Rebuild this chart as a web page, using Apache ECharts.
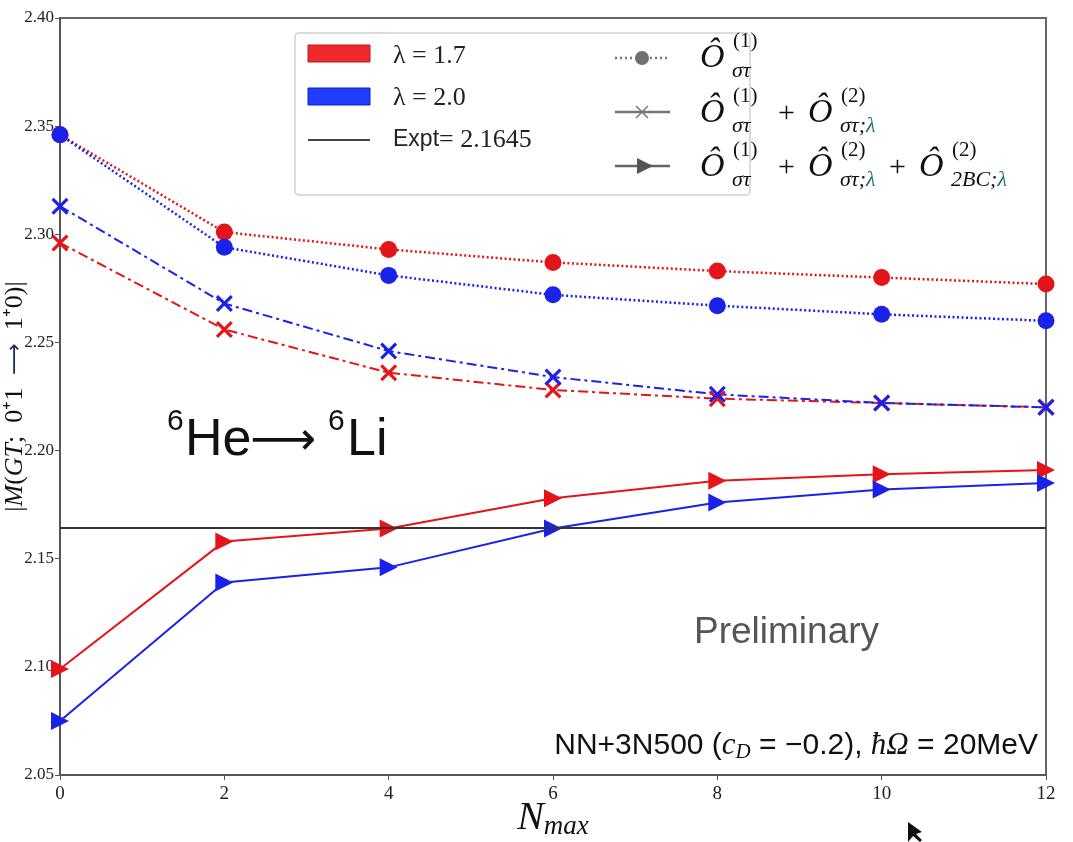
<!DOCTYPE html>
<html>
<head>
<meta charset="utf-8">
<script src="https://cdn.jsdelivr.net/npm/echarts@6/dist/echarts.min.js"></script>
<style>html,body{margin:0;padding:0;background:#fff}#c{width:1073px;height:842px}</style>
</head>
<body>
<div id="c"></div>
<script>
// ---- data ----
const nmax = [0, 2, 4, 6, 8, 10, 12];
const xTicks = [0, 2, 4, 6, 8, 10, 12];
const yTicks = [2.05, 2.10, 2.15, 2.20, 2.25, 2.30, 2.35, 2.40];
const expt = 2.1645;
// O(1) only (dotted, circles)
const o1_l17 = [2.346, 2.301, 2.293, 2.287, 2.283, 2.280, 2.277];
const o1_l20 = [2.346, 2.294, 2.281, 2.272, 2.267, 2.263, 2.260];
// O(1)+O(2) (dash-dot, crosses)
const o12_l17 = [2.296, 2.256, 2.236, 2.228, 2.224, 2.222, 2.220];
const o12_l20 = [2.313, 2.268, 2.246, 2.234, 2.226, 2.222, 2.220];
// O(1)+O(2)+2BC (solid, triangles)
const o122_l17 = [2.099, 2.158, 2.164, 2.178, 2.186, 2.189, 2.191];
const o122_l20 = [2.075, 2.139, 2.146, 2.164, 2.176, 2.182, 2.185];

const RED = '#e5141b', BLUE = '#1a22ea';
const XPATH = 'path://M0,1.3L1.3,0L5,3.7L8.7,0L10,1.3L6.3,5L10,8.7L8.7,10L5,6.3L1.3,10L0,8.7L3.7,5Z';
const TRI = 'path://M0,0L10,5L0,10Z';

function pts(ys){ return nmax.map((n,i)=>[n, ys[i]]); }
function mk(name, ys, color, kind){
  const s = {name, type:'line', data: pts(ys), clip:false, z: 3,
    lineStyle:{color, width:2}, itemStyle:{color}, animation:false, silent:true};
  if(kind==='dot'){ s.symbol='circle'; s.symbolSize=17; s.lineStyle.type=[2,2.5]; s.lineStyle.width=2.5; }
  if(kind==='dd'){ s.symbol=XPATH; s.symbolSize=17; s.lineStyle.type=[10,4,3,4]; }
  if(kind==='solid'){ s.symbol=TRI; s.symbolSize=[18,18]; s.lineStyle.type='solid'; }
  return s;
}

const serif = 'Liberation Serif';
const sans = 'Liberation Sans';

function oLabel(x, y, sup, subRich){
  return [
    {type:'text', x:x, y:y, style:{text:'Ô', font:'italic 34px '+serif, fill:'#111', verticalAlign:'middle'}},
    {type:'text', x:x+33, y:y-17, style:{text:sup, font:'21px '+serif, fill:'#111', verticalAlign:'middle'}},
    {type:'text', x:x+32, y:y+13, style:{text:subRich, font:'italic 22px '+serif, fill:'#111', verticalAlign:'middle',
      rich:{a:{font:'italic 22px '+serif, fill:'#111'}, b:{font:'italic 22px '+serif, fill:'#2a6f80'}}}}
  ];
}
function plus(x,y){ return {type:'text', x:x, y:y, style:{text:'+', font:'30px '+serif, fill:'#111', verticalAlign:'middle'}}; }

const graphics = [
  // legend box
  {type:'rect', shape:{x:295, y:33, width:455, height:162, r:4}, style:{fill:'#fff', stroke:'#cfcfcf', lineWidth:1.5}, z:10},
  {type:'rect', shape:{x:308, y:45, width:62, height:17}, style:{fill:'#ee2a2a', stroke:'#c01818', lineWidth:1}, z:11},
  {type:'rect', shape:{x:308, y:88, width:62, height:17}, style:{fill:'#1f3dff', stroke:'#1020c0', lineWidth:1}, z:11},
  {type:'line', shape:{x1:308, y1:140, x2:370, y2:140}, style:{stroke:'#444', lineWidth:2}, z:11},
  {type:'text', x:393, y:56, z:11, style:{text:'λ = 1.7', font:'26px '+serif, fill:'#222', verticalAlign:'middle'}},
  {type:'text', x:393, y:98, z:11, style:{text:'λ = 2.0', font:'26px '+serif, fill:'#222', verticalAlign:'middle'}},
  {type:'text', x:393, y:140, z:11, style:{text:'{a|Expt}{b|= 2.1645}', verticalAlign:'middle',
     rich:{a:{font:'23px '+sans, fill:'#222'}, b:{font:'26px '+serif, fill:'#222'}}}},
  {type:'line', shape:{x1:615, y1:58, x2:670, y2:58}, style:{stroke:'#777', lineWidth:2.5, lineDash:[2,3]}, z:11},
  {type:'circle', shape:{cx:642, cy:58, r:7}, style:{fill:'#707070'}, z:12},
  {type:'line', shape:{x1:615, y1:112, x2:670, y2:112}, style:{stroke:'#777', lineWidth:2.5}, z:11},
  {type:'line', shape:{x1:636, y1:106, x2:648, y2:118}, style:{stroke:'#777', lineWidth:1.5}, z:12},
  {type:'line', shape:{x1:636, y1:118, x2:648, y2:106}, style:{stroke:'#777', lineWidth:1.5}, z:12},
  {type:'line', shape:{x1:615, y1:166, x2:670, y2:166}, style:{stroke:'#666', lineWidth:2.5}, z:11},
  {type:'polygon', shape:{points:[[637,158],[653,166],[637,174]]}, style:{fill:'#555'}, z:12},
  // big reaction text
  {type:'text', x:167, y:422, z:5, style:{text:'6', font:'30px '+sans, fill:'#111', verticalAlign:'middle'}},
  {type:'text', x:185, y:441, z:5, style:{text:'He', font:'52px '+sans, fill:'#111', verticalAlign:'middle'}},
  {type:'text', x:250, y:442, z:5, style:{text:'⟶', font:'46px DejaVu Sans', fill:'#111', verticalAlign:'middle'}},
  {type:'text', x:328, y:422, z:5, style:{text:'6', font:'30px '+sans, fill:'#111', verticalAlign:'middle'}},
  {type:'text', x:347, y:441, z:5, style:{text:'Li', font:'52px '+sans, fill:'#111', verticalAlign:'middle'}},
  {type:'text', x:694, y:633, z:5, style:{text:'Preliminary', font:'37px '+sans, fill:'#555', verticalAlign:'middle'}},
  {type:'text', x:1038, y:746, z:5, style:{text:'{s|NN+3N500 (}{i|c}{sub|D}{s| = −0.2), }{i|ħΩ}{s| = 20MeV}', align:'right', verticalAlign:'middle',
     rich:{s:{font:'30px '+sans, fill:'#111'}, i:{font:'italic 31px '+serif, fill:'#111'}, sub:{font:'italic 21px '+serif, fill:'#111', padding:[13,0,0,0]}}}},
  // small mouse cursor artefact
  {type:'polygon', shape:{points:[[908,822],[908,842],[913,836],[920,842],[922,840],[916,834],[922,832]]}, style:{fill:'#111'}, z:12}
];
graphics.push(...oLabel(700, 58, '(1)', 'στ'));
graphics.push(...oLabel(700, 113, '(1)', 'στ'));
graphics.push(plus(778,114));
graphics.push(...oLabel(808, 113, '(2)', '{a|στ;}{b|λ}'));
graphics.push(...oLabel(700, 167, '(1)', 'στ'));
graphics.push(plus(778,168));
graphics.push(...oLabel(808, 167, '(2)', '{a|στ;}{b|λ}'));
graphics.push(plus(889,168));
graphics.push(...oLabel(919, 167, '(2)', '{a|2BC;}{b|λ}'));
graphics.forEach(g=>{ if(g.z===undefined) g.z=12; });

const chart = echarts.init(document.getElementById('c'), null, {renderer:'canvas'});
const series = [
  mk('o1_l17', o1_l17, RED, 'dot'),
  mk('o1_l20', o1_l20, BLUE, 'dot'),
  mk('o12_l17', o12_l17, RED, 'dd'),
  mk('o12_l20', o12_l20, BLUE, 'dd'),
  mk('o122_l17', o122_l17, RED, 'solid'),
  mk('o122_l20', o122_l20, BLUE, 'solid')
];
series[0].markLine = {silent:true, symbol:'none', precision:4, label:{show:false}, animation:false,
  lineStyle:{color:'#333', width:2, type:'solid'}, data:[{yAxis: expt}]};

chart.setOption({
  animation:false,
  backgroundColor:'#fff',
  grid:{left:60, right:27, top:18, bottom:67, show:true, borderColor:'#666', borderWidth:2, backgroundColor:'#fff', containLabel:false, outerBoundsMode:'none'},
  xAxis:{type:'value', min:xTicks[0], max:xTicks[xTicks.length-1], interval:2,
    axisLine:{lineStyle:{color:'#555', width:2}}, axisTick:{show:true, length:5, lineStyle:{color:'#555'}},
    splitLine:{show:false},
    axisLabel:{color:'#222', fontFamily:serif, fontSize:19, margin:10},
    name:'{n|N}{s|max}', nameLocation:'middle', nameGap:22, nameMoveOverlap:false,
    nameTextStyle:{rich:{n:{fontFamily:serif, fontStyle:'italic', fontSize:40, color:'#111'}, s:{fontFamily:serif, fontStyle:'italic', fontSize:27, color:'#111', padding:[16,0,0,0]}}}},
  yAxis:{type:'value', min:yTicks[0], max:yTicks[yTicks.length-1], interval:0.05,
    axisLine:{show:true, lineStyle:{color:'#555', width:2}}, axisTick:{show:true, length:5, lineStyle:{color:'#555'}},
    splitLine:{show:false},
    axisLabel:{color:'#222', fontFamily:serif, fontSize:17, margin:6, formatter:v=>v.toFixed(2)},
    name:'{n||}{i|M}{n|(}{i|GT}{n|;  0⁺1  }{a|⟶}{n|  1⁺0)|}', nameLocation:'middle', nameGap:32, nameRotate:90, nameMoveOverlap:false,
    nameTextStyle:{rich:{n:{fontFamily:serif, fontSize:26, color:'#111'}, i:{fontFamily:serif, fontStyle:'italic', fontSize:26, color:'#111'}, a:{fontFamily:'DejaVu Sans', fontSize:22, color:'#1a2a5a'}}}},
  series,
  graphic: graphics
});
</script>
</body>
</html>
